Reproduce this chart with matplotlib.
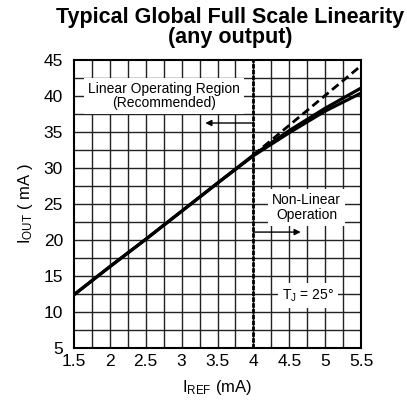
import matplotlib
matplotlib.use("Agg")
import matplotlib.pyplot as plt
import numpy as np

plt.rcParams['font.family'] = ['Liberation Sans', 'DejaVu Sans']
plt.rcParams['mathtext.fontset'] = 'custom'
plt.rcParams['mathtext.rm'] = 'Liberation Sans'
plt.rcParams['mathtext.it'] = 'Liberation Sans'

# data
i_ref = [1.5, 2.0, 2.5, 3.0, 3.5, 4.0, 4.5, 5.0, 5.5]
i_out_a = [12.4, 16.3, 20.1, 24.0, 27.9, 31.8, 35.2, 38.3, 41.1]
i_out_b = [12.4, 16.3, 20.1, 24.0, 27.9, 31.7, 34.9, 37.9, 40.4]
ideal_x = [4.0, 5.5]
ideal_y = [31.8, 44.2]
x_ticks = [1.5, 2, 2.5, 3, 3.5, 4, 4.5, 5, 5.5]
x_tick_labels = ['1.5', '2', '2.5', '3', '3.5', '4', '4.5', '5', '5.5']
y_ticks = [5, 10, 15, 20, 25, 30, 35, 40, 45]

fig = plt.figure(figsize=(4.07, 4.04), dpi=100)
ax = fig.add_axes([74/407, 56/404, 287/407, 288/404])

ax.set_xlim(1.5, 5.5)
ax.set_ylim(5, 45)

# grid
for gx in np.arange(1.75, 5.5, 0.25):
    ax.axvline(gx, color='#222222', lw=1.0, zorder=1)
for gy in np.arange(7.5, 45, 2.5):
    ax.axhline(gy, color='#222222', lw=1.0, zorder=1)

# boundary dotted line
ax.axvline(4.0, color='black', lw=2.0, linestyle=(0, (1.6, 0.5)), zorder=4)

# curves
ax.plot(i_ref, i_out_a, color='black', lw=2.3, solid_capstyle='butt', zorder=5)
ax.plot(i_ref, i_out_b, color='black', lw=2.3, solid_capstyle='butt', zorder=5)
ax.plot(ideal_x, ideal_y, color='black', lw=2.0, linestyle=(0, (3.0, 1.6)), zorder=5)

ax.text(2.75, 40.0, 'Linear Operating Region\n(Recommended)', ha='center', va='center',
        fontsize=10, linespacing=1.05, bbox=dict(facecolor='white', edgecolor='none',
        boxstyle='square,pad=0.3'), zorder=6)
ax.text(4.74, 24.5, 'Non-Linear\nOperation', ha='center', va='center',
        fontsize=10, linespacing=1.05, bbox=dict(facecolor='white', edgecolor='none',
        boxstyle='square,pad=0.3'), zorder=6)
ax.text(4.76, 12.3, r'T$_{\mathrm{J}}$ = 25°', ha='center', va='center',
        fontsize=10, bbox=dict(facecolor='white', edgecolor='none',
        boxstyle='square,pad=0.3'), zorder=6)

ax.annotate('', xy=(3.33, 36.25), xytext=(4.0, 36.25),
            arrowprops=dict(arrowstyle='-|>', color='black', lw=1.0,
                            mutation_scale=9, shrinkA=0, shrinkB=0), zorder=6)
ax.annotate('', xy=(4.66, 21.1), xytext=(4.0, 21.1),
            arrowprops=dict(arrowstyle='-|>', color='black', lw=1.0,
                            mutation_scale=9, shrinkA=0, shrinkB=0), zorder=6)

ax.set_xticks(x_ticks)
ax.set_xticklabels(x_tick_labels)
ax.set_yticks(y_ticks)
ax.tick_params(length=0, labelsize=12.5, pad=4)
ax.tick_params(axis='y', pad=8)
for s in ax.spines.values():
    s.set_linewidth(1.5)
    s.set_zorder(7)

ax.set_xlabel(r'I$_{\mathrm{REF}}$ (mA)', fontsize=12, labelpad=7)
ax.set_ylabel(r'I$_{\mathrm{OUT}}$ ( mA )', fontsize=12, labelpad=6)

fig.text(230/407, 1 - 7/404, 'Typical Global Full Scale Linearity\n(any output)',
         ha='center', va='top', fontsize=15.5, fontweight='bold', linespacing=0.92)

fig.savefig('out.png', dpi=100)
